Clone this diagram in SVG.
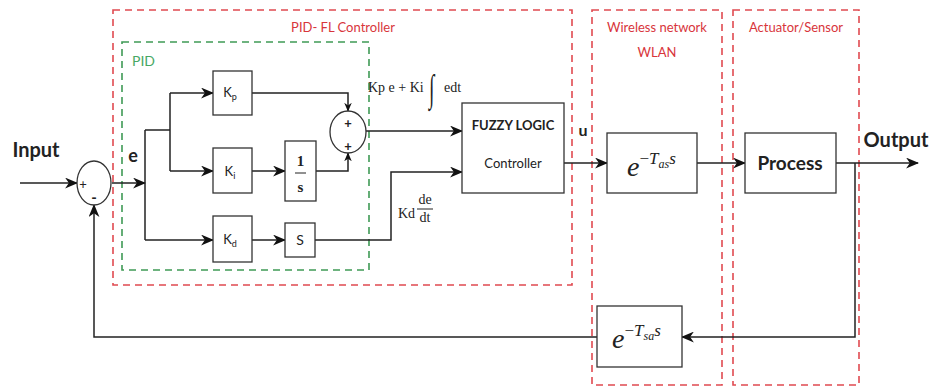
<svg xmlns="http://www.w3.org/2000/svg" width="930" height="387" viewBox="0 0 930 387">
<style>
.box{fill:#fff;stroke:#333;stroke-width:1.3}
.ln{fill:none;stroke:#222;stroke-width:1.5}
.sum{fill:#fff;stroke:#333;stroke-width:1.3}
.red{fill:none;stroke:#e04a50;stroke-width:1.6;stroke-dasharray:7,5}
.grn{fill:none;stroke:#3f9a55;stroke-width:1.6;stroke-dasharray:7,5}
.rt{font-family:Lato,"Open Sans",sans-serif;font-size:13px;fill:#d8353b;text-anchor:middle}
.gt{font-family:Lato,"Open Sans",sans-serif;font-size:14px;fill:#47a865}
.bt{font-family:Lato,"Open Sans",sans-serif;fill:#222;text-anchor:middle}
.st{font-family:"Liberation Serif",serif;fill:#222}
.mt{font-family:"Liberation Serif",serif;font-style:italic;fill:#222}
</style>
<defs>
<marker id="ar" viewBox="0 0 12 10" refX="11" refY="5" markerWidth="13" markerHeight="11" markerUnits="userSpaceOnUse" orient="auto">
<path d="M0,0 L12,5 L0,10 L3.5,5 z" fill="#111"/>
</marker>
<marker id="ars" viewBox="0 0 12 10" refX="11" refY="5" markerWidth="9" markerHeight="8" markerUnits="userSpaceOnUse" orient="auto">
<path d="M0,0 L12,5 L0,10 L3.5,5 z" fill="#111"/>
</marker>
</defs>

<g id="frames">
<rect class="red" x="113" y="10" width="459" height="275"/>
<rect class="grn" x="122" y="42" width="247" height="228"/>
<rect class="red" x="592" y="10" width="130" height="375"/>
<rect class="red" x="733" y="10" width="126" height="375"/>
<text class="rt" x="343" y="32">PID- FL Controller</text>
<text class="gt" x="132" y="66">PID</text>
<text class="rt" x="657" y="32">Wireless network</text>
<text class="rt" x="657" y="57">WLAN</text>
<text class="rt" x="796" y="32">Actuator/Sensor</text>
</g>

<g id="connectors">
<path class="ln" d="M20,183 H77" marker-end="url(#ar)"/>
<path class="ln" d="M112,183 H145" marker-end="url(#ar)"/>
<path class="ln" d="M145,130 V240"/>
<path class="ln" d="M145,130 H170"/>
<path class="ln" d="M170,93 V171"/>
<path class="ln" d="M170,93 H213" marker-end="url(#ar)"/>
<path class="ln" d="M170,171 H213" marker-end="url(#ar)"/>
<path class="ln" d="M145,240 H213" marker-end="url(#ar)"/>
<path class="ln" d="M252,171 H285" marker-end="url(#ar)"/>
<path class="ln" d="M252,240 H285" marker-end="url(#ar)"/>
<path class="ln" d="M252,93 H348 V111" marker-end="url(#ars)"/>
<path class="ln" d="M316,171 H348 V153" marker-end="url(#ars)"/>
<path class="ln" d="M366,131 H462" marker-end="url(#ar)"/>
<path class="ln" d="M315,240 H391 V172 H462" marker-end="url(#ar)"/>
<path class="ln" d="M564,163 H607" marker-end="url(#ar)"/>
<path class="ln" d="M697,163 H745" marker-end="url(#ar)"/>
<path class="ln" d="M836,163 H918" marker-end="url(#ar)"/>
<path class="ln" d="M855,163 V337 H682" marker-end="url(#ar)"/>
<path class="ln" d="M597,337 H94 V205" marker-end="url(#ar)"/>
</g>

<g id="input-label"><text class="bt" x="36" y="157" style="font-size:20px;font-weight:bold">Input</text></g>
<g id="sum1">
<ellipse class="sum" cx="94" cy="183" rx="17" ry="22"/>
<text class="bt" x="83" y="189" style="font-size:13px">+</text>
<text class="bt" x="94" y="203" style="font-size:15px;font-weight:bold">-</text>
</g>
<g id="e-label"><text class="bt" x="133" y="162" style="font-size:18px;font-weight:bold">e</text></g>

<g id="kp"><rect class="box" x="213" y="71" width="39" height="44"/>
<text class="bt" x="230" y="97" style="font-size:13px">K<tspan dy="3" font-size="9">p</tspan></text></g>
<g id="ki"><rect class="box" x="213" y="148" width="39" height="45"/>
<text class="bt" x="230" y="176" style="font-size:13px">K<tspan dy="3" font-size="9">i</tspan></text></g>
<g id="kd"><rect class="box" x="213" y="216" width="39" height="46"/>
<text class="bt" x="230" y="244" style="font-size:13px">K<tspan dy="3" font-size="9">d</tspan></text></g>
<g id="integ"><rect class="box" x="285" y="141" width="31" height="60"/>
<text class="st" x="300.5" y="166" text-anchor="middle" style="font-size:15px;font-weight:bold">1</text>
<line x1="295" y1="173" x2="306" y2="173" stroke="#222" stroke-width="1"/>
<text class="st" x="300.5" y="192" text-anchor="middle" style="font-size:15px;font-weight:bold">s</text></g>
<g id="deriv"><rect class="box" x="285" y="223" width="30" height="34"/>
<text class="bt" x="300" y="245" style="font-size:14px">S</text></g>

<g id="sum2">
<ellipse class="sum" cx="348" cy="132" rx="18" ry="21"/>
<text class="bt" x="348" y="128" style="font-size:13px;font-weight:bold">+</text>
<text class="bt" x="348" y="151" style="font-size:13px;font-weight:bold">+</text>
</g>

<g id="pi-label">
<text class="st" x="368" y="92" style="font-size:14px">Kp e + Ki</text>
<text class="st" transform="translate(429,101) scale(1,2)" x="0" y="0" style="font-size:19px">∫</text>
<text class="st" x="444" y="92" style="font-size:14px">edt</text>
</g>
<g id="d-label">
<text class="st" x="398" y="218" style="font-size:14px">Kd</text>
<text class="st" x="425" y="204" text-anchor="middle" style="font-size:14px">de</text>
<line x1="417" y1="209" x2="433" y2="209" stroke="#222" stroke-width="1"/>
<text class="st" x="425" y="222" text-anchor="middle" style="font-size:14px">dt</text>
</g>

<g id="fuzzy"><rect class="box" x="462" y="103" width="102" height="90"/>
<text class="bt" x="513" y="130" style="font-size:13px;font-weight:bold">FUZZY LOGIC</text>
<text class="bt" x="513" y="168" style="font-size:13px">Controller</text></g>
<g id="u-label"><text class="bt" x="583" y="136" style="font-size:16px;font-weight:bold">u</text></g>

<g id="delay-as"><rect class="box" x="607" y="133" width="90" height="60"/>
<text class="mt" x="627" y="176" style="font-size:28px">e<tspan dy="-12" font-size="17" font-style="normal">−</tspan><tspan font-size="17">T</tspan><tspan dy="4" font-size="12">as</tspan><tspan dy="-4" font-size="17">s</tspan></text></g>

<g id="process"><rect class="box" x="745" y="133" width="91" height="60"/>
<text class="bt" x="790" y="170" style="font-size:19px;font-weight:bold">Process</text></g>
<g id="output-label"><text class="bt" x="896" y="147" style="font-size:20px;font-weight:bold">Output</text></g>

<g id="delay-sa"><rect class="box" x="597" y="306" width="85" height="61"/>
<text class="mt" x="612" y="348" style="font-size:28px">e<tspan dy="-12" font-size="17" font-style="normal">−</tspan><tspan font-size="17">T</tspan><tspan dy="4" font-size="12">sa</tspan><tspan dy="-4" font-size="17">s</tspan></text></g>
</svg>
